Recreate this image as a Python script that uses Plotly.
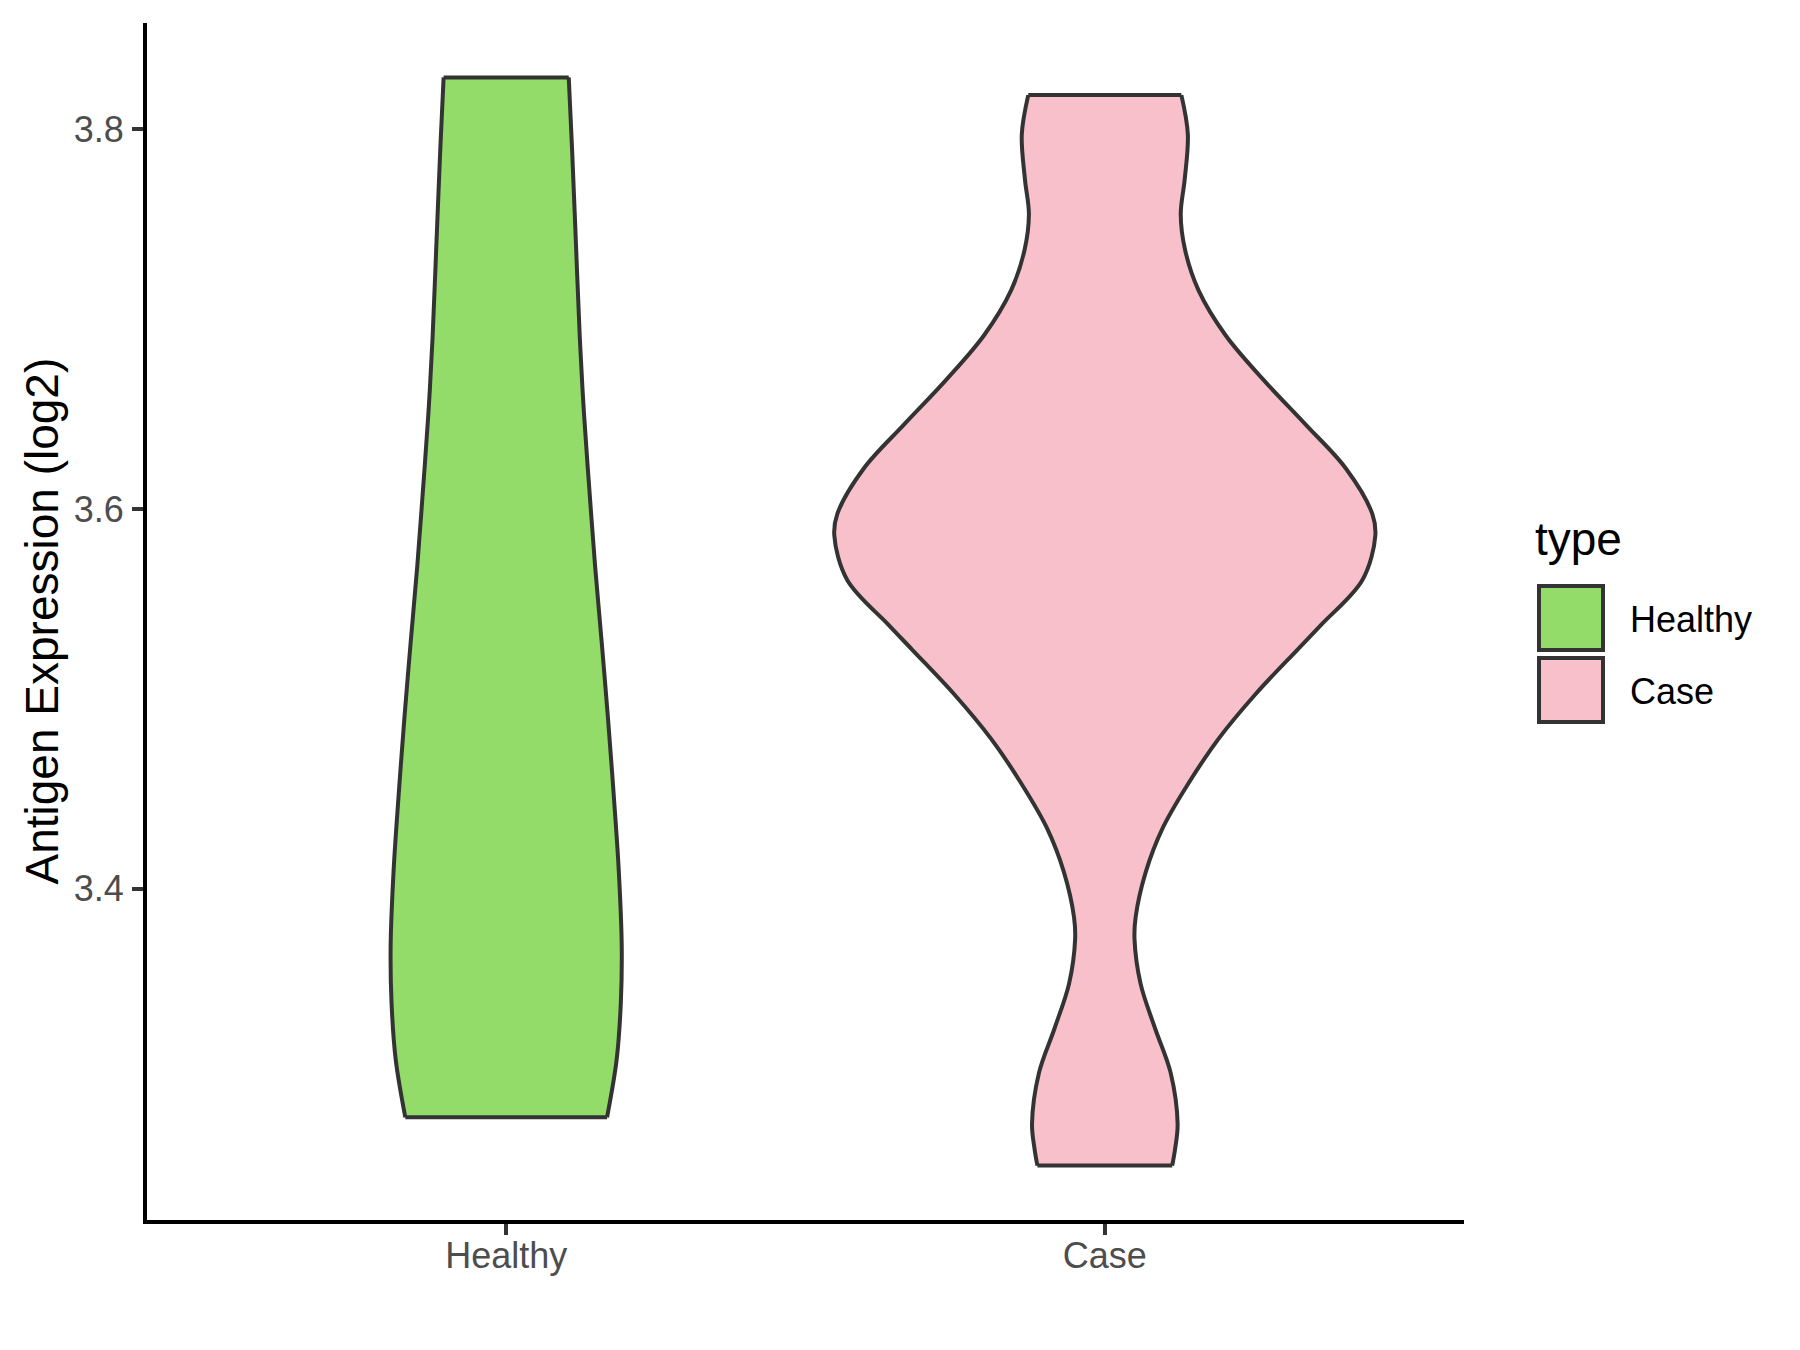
import plotly.graph_objects as go

# ---------------- data ----------------
categories = ["Healthy", "Case"]

# violin outlines: expression level (log2) and half-width (in category units)
healthy_y = [3.8272, 3.7900, 3.7400, 3.6900, 3.6500, 3.6100, 3.5700, 3.5300,
             3.4900, 3.4500, 3.4100, 3.3700, 3.3400, 3.3100, 3.2797]
healthy_halfwidth = [0.1045, 0.1100, 0.1165, 0.1230, 0.1300, 0.1390, 0.1485, 0.1595,
                     0.1700, 0.1795, 0.1880, 0.1930, 0.1915, 0.1845, 0.1685]

case_y = [3.8179, 3.7972, 3.7737, 3.7550, 3.7362, 3.7151, 3.6916, 3.6681,
          3.6444, 3.6213, 3.5975, 3.5861, 3.5626, 3.5391, 3.5260, 3.5026,
          3.4791, 3.4556, 3.4322, 3.4087, 3.3852, 3.3735, 3.3501, 3.3266,
          3.3031, 3.2762, 3.2633, 3.2543]
case_halfwidth = [0.1279, 0.1387, 0.1335, 0.1268, 0.1342, 0.1566, 0.2014, 0.2647,
                  0.3356, 0.4027, 0.4467, 0.4519, 0.4303, 0.3617, 0.3220, 0.2520,
                  0.1902, 0.1398, 0.0970, 0.0682, 0.0515, 0.0496, 0.0597, 0.0839,
                  0.1100, 0.1216, 0.1175, 0.1126]

y_tick_values = [3.4, 3.6, 3.8]
y_tick_labels = ["3.4", "3.6", "3.8"]

y_title = "Antigen Expression (log2)"
legend_title = "type"

# ---------------- styles ----------------
fill_colors = {"Healthy": "#94DC6A", "Case": "#F8C0CB"}
outline_color = "#333333"
FONT = "Liberation Sans, Arial, sans-serif"
LW = 4

# page offset of the plot (browser body margin is 8px)
PAGE_OFF = 8
PLOT_L, PLOT_R, PLOT_T, PLOT_B = 147 - PAGE_OFF, 1464 - PAGE_OFF, 23 - PAGE_OFF, 1220 - PAGE_OFF
W, H = 1800, 1350

profiles = {
    "Healthy": (healthy_y, healthy_halfwidth),
    "Case": (case_y, case_halfwidth),
}

fig = go.Figure()

for idx, cat in enumerate(categories):
    pos = idx + 1
    ys, hws = profiles[cat]
    left_x = [pos - w for w in hws]
    right_x = [pos + w for w in hws]
    # left side (smooth)
    fig.add_trace(go.Scatter(
        x=left_x, y=ys, mode="lines",
        line=dict(color=outline_color, width=LW, shape="spline", smoothing=1.0),
        showlegend=False, hoverinfo="skip",
    ))
    # right side (smooth), filled to the left side -> flat caps at the ends
    fig.add_trace(go.Scatter(
        x=right_x, y=ys, mode="lines", fill="tonextx",
        fillcolor=fill_colors[cat],
        line=dict(color=outline_color, width=LW, shape="spline", smoothing=1.0),
        name=cat, showlegend=False, hoverinfo="skip",
    ))
    # flat caps at the data extremes
    fig.add_trace(go.Scatter(
        x=[left_x[0], right_x[0], None, left_x[-1], right_x[-1]],
        y=[ys[0], ys[0], None, ys[-1], ys[-1]],
        mode="lines", line=dict(color=outline_color, width=LW),
        showlegend=False, hoverinfo="skip",
    ))

all_y = healthy_y + case_y
ymin, ymax = min(all_y), max(all_y)
pad = 0.05 * (ymax - ymin)

fig.update_layout(
    width=W, height=H,
    paper_bgcolor="white", plot_bgcolor="white",
    margin=dict(l=PLOT_L, r=W - PLOT_R, t=PLOT_T, b=H - PLOT_B),
    font=dict(family=FONT),
    xaxis=dict(
        range=[0.4, 2.6], tickvals=[1, 2], ticktext=categories,
        showgrid=False, zeroline=False,
        showline=True, linecolor="black", linewidth=LW,
        ticks="outside", ticklen=11, tickwidth=LW, tickcolor=outline_color,
        tickfont=dict(size=36, color="#4D4D4D", family=FONT),
        ticklabelstandoff=-10,
    ),
    yaxis=dict(
        range=[ymin - pad, ymax + pad], tickvals=y_tick_values, ticktext=y_tick_labels,
        showgrid=False, zeroline=False,
        showline=True, linecolor="black", linewidth=LW,
        ticks="outside", ticklen=11, tickwidth=LW, tickcolor=outline_color,
        tickfont=dict(size=36, color="#4D4D4D", family=FONT),
        ticklabelstandoff=1,
    ),
)


def px_to_paper_x(px):
    return (px - PAGE_OFF - PLOT_L) / (PLOT_R - PLOT_L)


def px_to_paper_y(py):
    return (PLOT_B - (py - PAGE_OFF)) / (PLOT_B - PLOT_T)


# y-axis title
fig.add_annotation(
    text=y_title, xref="paper", yref="paper", x=px_to_paper_x(41), y=0.5,
    xanchor="center", yanchor="middle", textangle=-90, showarrow=False,
    font=dict(size=46, color="black", family=FONT),
)

# legend (drawn manually to match ggplot key sizes)
fig.add_annotation(
    text=legend_title, xref="paper", yref="paper",
    x=px_to_paper_x(1533), y=px_to_paper_y(539),
    xanchor="left", yanchor="middle", showarrow=False,
    font=dict(size=46, color="black", family=FONT),
)
key_tops = [586, 658]
for cat, top in zip(categories, key_tops):
    fig.add_shape(
        type="rect", xref="paper", yref="paper",
        x0=px_to_paper_x(1539), x1=px_to_paper_x(1603),
        y0=px_to_paper_y(top + 64), y1=px_to_paper_y(top),
        fillcolor=fill_colors[cat], line=dict(color=outline_color, width=LW),
    )
    fig.add_annotation(
        text=cat, xref="paper", yref="paper",
        x=px_to_paper_x(1628), y=px_to_paper_y(top + 33),
        xanchor="left", yanchor="middle", showarrow=False,
        font=dict(size=36, color="black", family=FONT),
    )

fig.write_html("out.html")
